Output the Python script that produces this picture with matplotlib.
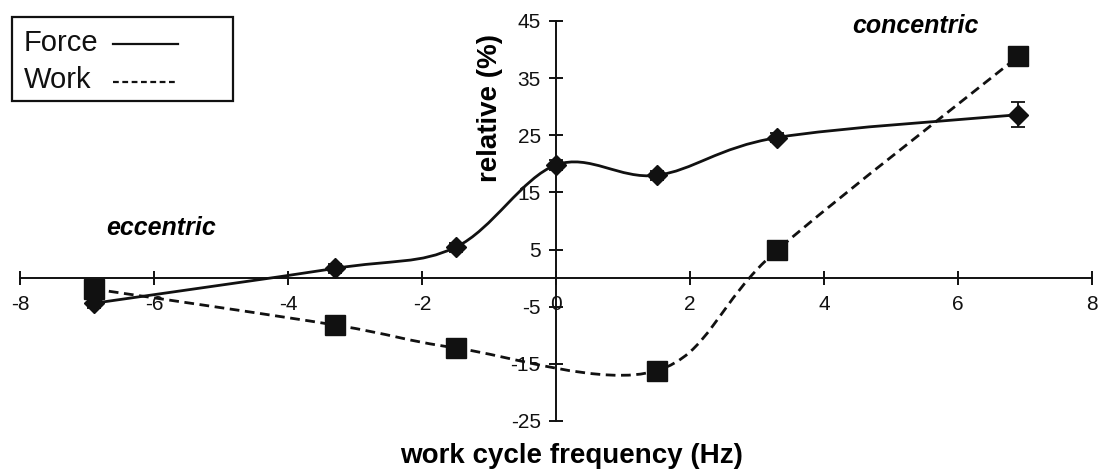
import matplotlib.pyplot as plt
import numpy as np
from matplotlib.path import Path
from matplotlib.patches import PathPatch, Rectangle
from matplotlib.lines import Line2D

plt.rcParams['font.family'] = ['Liberation Sans', 'DejaVu Sans']
plt.rcParams['axes.unicode_minus'] = False

# data
freq = [-6.9, -3.3, -1.5, 0.0, 1.5, 3.3, 6.9]
force = [-4.4, 1.7, 5.4, 19.8, 18.0, 24.6, 28.6]
force_err = [0.8, 0.8, 0.8, 0.8, 0.8, 0.8, 2.2]
freq_w = [-6.9, -3.3, -1.5, 1.5, 3.3, 6.9]
work = [-1.9, -8.2, -12.2, -16.2, 4.9, 38.8]

xticks = [-8, -6, -4, -2, 0, 2, 4, 6, 8]
yticks = [-25, -15, -5, 5, 15, 25, 35, 45]

W, H = 1098, 475
INK = '#111111'


def smooth_path(xs, ys):
    # excel-style smoothed line: catmull-rom as cubic bezier segments
    p = np.column_stack([xs, ys])
    p = np.vstack([p[0], p, p[-1]])
    verts = [p[1]]
    codes = [Path.MOVETO]
    for i in range(1, len(p) - 2):
        c1 = p[i] + (p[i + 1] - p[i - 1]) / 6
        c2 = p[i + 1] - (p[i + 2] - p[i]) / 6
        verts += [c1, c2, p[i + 1]]
        codes += [Path.CURVE4] * 3
    return Path(verts, codes)


def fx(px):
    return px / W


def fy(py):
    return 1 - py / H


fig = plt.figure(figsize=(10.98, 4.75), dpi=100)
ax = fig.add_axes([fx(20), fy(421), 1072 / W, 400 / H])

ax.add_patch(PathPatch(smooth_path(freq, force), fill=False, color=INK, lw=2))
ax.add_patch(PathPatch(smooth_path(freq_w, work), fill=False, color=INK, lw=2,
                       linestyle=(0, (3.5, 2))))

ax.errorbar(freq, force, yerr=force_err, fmt='none', ecolor=INK, elinewidth=1.3,
            capsize=5, capthick=1.3)
ax.plot(freq, force, 'D', color=INK, ms=10, zorder=5)
ax.plot(freq_w, work, 's', color=INK, ms=14, zorder=5)

ax.set_xlim(-8, 8)
ax.set_ylim(-25, 45)
ax.spines['left'].set_position(('data', 0))
ax.spines['bottom'].set_position(('data', 0))
ax.spines['top'].set_visible(False)
ax.spines['right'].set_visible(False)
for s in ('left', 'bottom'):
    ax.spines[s].set_linewidth(1.4)
    ax.spines[s].set_color(INK)
ax.set_xticks(xticks)
ax.set_yticks(yticks)
ax.tick_params(axis='both', direction='inout', length=10, width=1.4, colors=INK,
               labelsize=15)
ax.tick_params(axis='x', pad=7)
ax.tick_params(axis='y', pad=6)

ax.set_xlabel('work cycle frequency (Hz)', fontsize=20, fontweight='bold', va='center')
ax.xaxis.set_label_coords((572 - 20) / 1072, (421 - 456) / 400)
ax.set_ylabel('relative (%)', fontsize=20, fontweight='bold', va='center')
ax.yaxis.set_label_coords((490 - 20) / 1072, (421 - 108) / 400)

ax.text(-5.9, 8.7, 'eccentric', fontsize=18, fontweight='bold', style='italic',
        ha='center', va='center')
ax.text(5.37, 44.1, 'concentric', fontsize=18, fontweight='bold', style='italic',
        ha='center', va='center')

# legend box drawn by hand: label first, line sample after
fig.patches.append(Rectangle((fx(12), fy(101)), fx(233) - fx(12), fy(17) - fy(101),
                             transform=fig.transFigure, fill=False, ec=INK, lw=1.6))
fig.text(fx(24), fy(43), 'Force', fontsize=21, va='center', ha='left', color=INK)
fig.text(fx(24), fy(80), 'Work', fontsize=21, va='center', ha='left', color=INK)
fig.lines.append(Line2D([fx(113), fx(178)], [fy(44), fy(44)], transform=fig.transFigure,
                        color=INK, lw=1.6))
fig.lines.append(Line2D([fx(113), fx(177)], [fy(82), fy(82)], transform=fig.transFigure,
                        color=INK, lw=1.6, linestyle=(0, (2.6, 1.6))))

fig.savefig('out.png', dpi=100)
